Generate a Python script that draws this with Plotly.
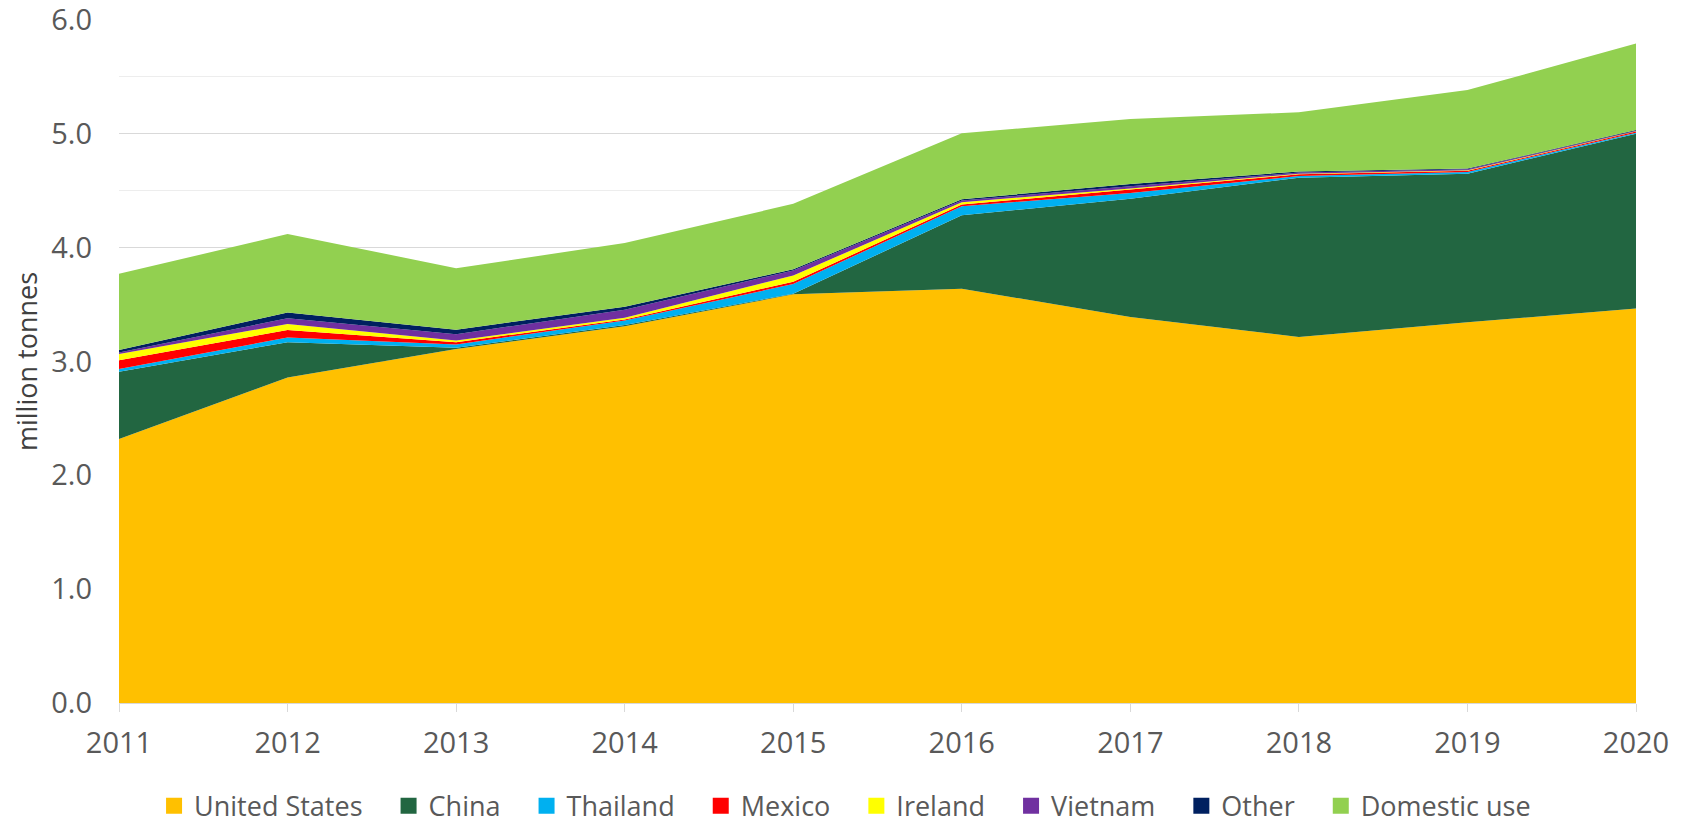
import plotly.graph_objects as go

years = [2011, 2012, 2013, 2014, 2015, 2016, 2017, 2018, 2019, 2020]
united_states = [2.32, 2.86, 3.11, 3.31, 3.59, 3.64, 3.39, 3.215, 3.345, 3.465]
china = [0.59, 0.31, 0.01, 0.01, 0.005, 0.645, 1.04, 1.40, 1.305, 1.535]
thailand = [0.025, 0.04, 0.03, 0.04, 0.085, 0.08, 0.05, 0.015, 0.015, 0.01]
mexico = [0.075, 0.067, 0.02, 0.01, 0.02, 0.015, 0.03, 0.015, 0.01, 0.01]
ireland = [0.055, 0.053, 0.015, 0.015, 0.055, 0.02, 0.01, 0.005, 0.005, 0.003]
vietnam = [0.015, 0.05, 0.055, 0.07, 0.045, 0.015, 0.02, 0.01, 0.01, 0.005]
other = [0.02, 0.05, 0.04, 0.025, 0.01, 0.01, 0.02, 0.01, 0.005, 0.005]
domestic_use = [0.67, 0.69, 0.54, 0.56, 0.575, 0.58, 0.57, 0.52, 0.69, 0.76]

series = [
    ("United States", united_states, "#FFC000"),
    ("China", china, "#226641"),
    ("Thailand", thailand, "#00B0F0"),
    ("Mexico", mexico, "#FF0000"),
    ("Ireland", ireland, "#FFFF00"),
    ("Vietnam", vietnam, "#7030A0"),
    ("Other", other, "#002060"),
    ("Domestic use", domestic_use, "#92D050"),
]

fig = go.Figure()
for name, vals, color in series:
    fig.add_trace(go.Scatter(
        x=years, y=vals, name=name, mode="lines",
        stackgroup="one", line=dict(width=0, color=color),
        fillcolor=color, showlegend=False, legendgroup=name,
    ))
# legend entries with square swatches
pad = "\u00a0" * 3
for name, vals, color in series:
    fig.add_trace(go.Scatter(
        x=[None], y=[None], name=name + pad, mode="markers", legendgroup=name,
        marker=dict(symbol="square", size=17, color=color),
        showlegend=True,
    ))

font_main = "Open Sans, Liberation Sans, sans-serif"

fig.update_layout(
    width=1685, height=822,
    margin=dict(l=111, r=57, t=12, b=127, autoexpand=False),
    plot_bgcolor="white", paper_bgcolor="white",
    showlegend=True,
    legend=dict(
        orientation="h", xref="container", yref="container",
        x=0.503, xanchor="center", y=0.029, yanchor="middle",
        font=dict(family=font_main, size=27, color="#595959"),
        traceorder="normal", itemsizing="trace", itemwidth=30,
        tracegroupgap=0,
    ),
    xaxis=dict(
        range=[2011, 2020], tickmode="array", tickvals=years,
        ticktext=[str(y) for y in years],
        showgrid=False, zeroline=False, automargin=False,
        showline=True, linecolor="#D9D9D9", linewidth=1,
        ticks="outside", ticklen=8, tickcolor="#D9D9D9",
        ticklabelstandoff=6, ticklabeloverflow="allow",
        tickfont=dict(family=font_main, size=29, color="#595959"),
    ),
    yaxis=dict(
        range=[0, 6.0001], tickmode="array",
        tickvals=[0, 1, 2, 3, 4, 5, 6],
        ticktext=["0.0", "1.0", "2.0", "3.0", "4.0", "5.0", "6.0"],
        showgrid=True, gridcolor="#D9D9D9", gridwidth=1,
        zeroline=False, showline=False, automargin=False,
        minor=dict(tickvals=[0.5, 1.5, 2.5, 3.5, 4.5, 5.5], showgrid=True,
                   gridcolor="#EDEDED", gridwidth=1),
        ticks="", ticklabelstandoff=26, ticklabeloverflow="allow",
        tickfont=dict(family=font_main, size=29, color="#595959"),
        title=dict(text="million tonnes", standoff=14,
                   font=dict(family=font_main, size=27, color="#404040")),
    ),
)

fig.write_html("out.html")
